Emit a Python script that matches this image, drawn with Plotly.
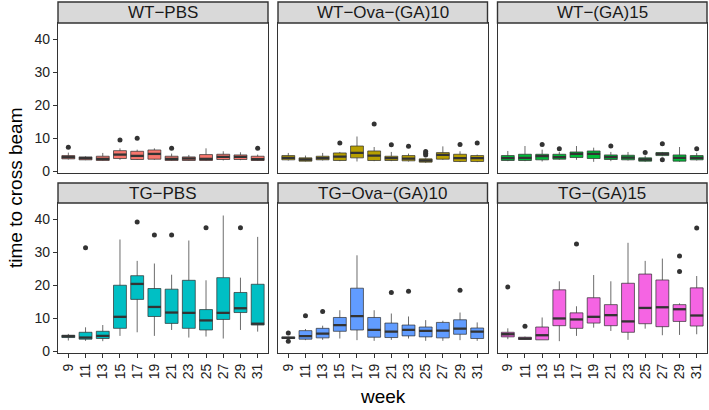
import plotly.graph_objects as go

# ---------------- data ----------------
WEEKS = [9, 11, 13, 15, 17, 19, 21, 23, 25, 27, 29, 31]
WEEK_LABELS = [str(w) for w in WEEKS]
Y_TICKS = [0, 10, 20, 30, 40]
PANEL_TITLES = ["WT−PBS", "WT−Ova−(GA)10", "WT−(GA)15",
                "TG−PBS", "TG−Ova−(GA)10", "TG−(GA)15"]
PANEL_COLORS = ["#F8766D", "#B79F00", "#00BA38", "#00BFC4", "#619CFF", "#F564E3"]

# WT-PBS
WT_PBS_LOW = [3.5, 3.3, 3.1, 3.4, 3.4, 3.4, 3.1, 3.1, 3.1, 3.2, 3.3, 3.1]
WT_PBS_Q1 = [3.7, 3.4, 3.2, 3.8, 3.5, 3.6, 3.2, 3.2, 3.2, 3.5, 3.5, 3.2]
WT_PBS_MED = [4.2, 3.9, 3.7, 5.0, 4.6, 5.2, 3.7, 3.8, 3.7, 4.3, 4.3, 3.6]
WT_PBS_Q3 = [4.7, 4.3, 4.5, 6.2, 6.0, 6.4, 4.5, 4.3, 5.0, 5.1, 4.9, 4.5]
WT_PBS_HIGH = [5.6, 4.5, 5.5, 6.9, 6.5, 6.9, 5.3, 4.9, 6.9, 6.0, 5.7, 5.0]
WT_PBS_OUT_WEEK = [9, 15, 17, 21, 31]
WT_PBS_OUT_VAL = [7.2, 9.4, 10.0, 6.9, 6.9]

# WT-Ova-(GA)10
WT_OVA_LOW = [3.2, 2.9, 3.2, 3.0, 2.9, 3.0, 3.0, 2.9, 2.5, 3.4, 2.7, 2.7]
WT_OVA_Q1 = [3.4, 3.0, 3.4, 3.2, 4.0, 3.2, 3.2, 3.1, 2.7, 3.6, 2.9, 2.9]
WT_OVA_MED = [4.0, 3.5, 3.9, 4.4, 5.5, 4.7, 3.9, 3.8, 3.2, 4.9, 3.9, 3.9]
WT_OVA_Q3 = [4.7, 4.0, 4.5, 5.5, 7.6, 6.1, 4.5, 4.7, 3.7, 5.6, 5.1, 4.7]
WT_OVA_HIGH = [5.5, 4.7, 5.5, 5.8, 10.5, 7.3, 5.8, 5.3, 3.9, 7.5, 6.0, 5.0]
WT_OVA_OUT_WEEK = [15, 19, 21, 23, 25, 25, 25, 29, 31]
WT_OVA_OUT_VAL = [8.5, 14.3, 8.0, 7.5, 4.9, 5.4, 5.9, 8.1, 8.5]

# WT-(GA)15
WT_GA15_LOW = [3.0, 3.0, 2.9, 3.4, 3.4, 2.8, 3.0, 3.2, 2.8, 4.5, 2.8, 3.2]
WT_GA15_Q1 = [3.2, 3.2, 3.4, 3.6, 4.1, 3.8, 3.5, 3.4, 3.0, 4.7, 3.0, 3.4]
WT_GA15_MED = [3.9, 4.0, 4.5, 4.2, 5.2, 5.2, 4.2, 4.1, 3.5, 5.2, 4.0, 4.0]
WT_GA15_Q3 = [4.7, 5.1, 5.1, 5.1, 5.8, 6.1, 4.9, 4.8, 4.0, 5.6, 4.9, 4.7]
WT_GA15_HIGH = [6.1, 7.6, 6.5, 5.8, 7.6, 7.1, 5.8, 5.8, 4.7, 5.8, 7.3, 5.5]
WT_GA15_OUT_WEEK = [13, 15, 21, 25, 27, 27, 31]
WT_GA15_OUT_VAL = [8.1, 6.8, 7.6, 5.6, 8.3, 3.4, 6.8]

# TG-PBS
TG_PBS_LOW = [3.2, 3.1, 3.0, 4.6, 5.7, 4.6, 6.4, 4.1, 4.4, 3.8, 6.4, 5.9]
TG_PBS_Q1 = [4.1, 3.6, 3.8, 6.9, 15.7, 10.5, 8.4, 6.9, 6.4, 9.6, 11.7, 7.9]
TG_PBS_MED = [4.5, 4.1, 4.6, 10.4, 20.4, 13.4, 11.7, 11.6, 9.3, 11.6, 13.0, 8.3]
TG_PBS_Q3 = [4.8, 5.7, 6.0, 20.0, 22.9, 19.0, 18.8, 21.5, 12.6, 22.3, 17.8, 20.3]
TG_PBS_HIGH = [5.2, 7.2, 7.9, 33.9, 27.4, 26.6, 23.2, 33.6, 21.5, 41.2, 22.3, 34.7]
TG_PBS_OUT_WEEK = [11, 17, 19, 21, 25, 29]
TG_PBS_OUT_VAL = [31.4, 39.2, 35.3, 35.3, 37.5, 37.5]

# TG-Ova-(GA)10
TG_OVA_LOW = [3.7, 3.3, 3.4, 3.8, 3.3, 3.1, 3.4, 3.8, 3.1, 3.1, 3.3, 3.1]
TG_OVA_Q1 = [3.8, 3.6, 4.0, 6.0, 6.4, 4.2, 4.1, 4.6, 4.3, 4.0, 5.1, 3.8]
TG_OVA_MED = [4.0, 4.5, 5.3, 7.9, 10.6, 6.4, 5.9, 6.4, 6.1, 6.2, 6.8, 5.9]
TG_OVA_Q3 = [4.3, 6.2, 6.9, 10.2, 19.1, 10.2, 8.5, 7.9, 7.3, 8.7, 9.5, 7.0]
TG_OVA_HIGH = [4.4, 6.7, 7.7, 12.4, 29.1, 12.4, 11.4, 10.5, 9.4, 9.2, 11.7, 8.7]
TG_OVA_OUT_WEEK = [9, 9, 11, 13, 21, 23, 29]
TG_OVA_OUT_VAL = [5.5, 3.0, 10.7, 12.0, 17.8, 18.2, 18.5]

# TG-(GA)15
TG_GA15_LOW = [3.6, 3.4, 3.4, 3.0, 4.6, 7.1, 6.1, 3.4, 6.8, 4.8, 4.9, 5.1]
TG_GA15_Q1 = [4.3, 3.5, 3.4, 7.7, 6.9, 8.5, 7.7, 5.7, 8.3, 7.4, 9.0, 7.6]
TG_GA15_MED = [5.1, 3.8, 4.8, 9.9, 9.6, 10.4, 10.9, 9.0, 13.1, 13.3, 12.7, 10.8]
TG_GA15_Q3 = [5.7, 4.2, 7.3, 18.6, 11.6, 16.2, 14.1, 20.6, 23.4, 21.6, 14.1, 19.2]
TG_GA15_HIGH = [6.9, 4.4, 10.2, 21.2, 13.6, 23.1, 21.2, 32.9, 27.4, 28.1, 14.5, 22.8]
TG_GA15_OUT_WEEK = [9, 11, 17, 29, 29, 31]
TG_GA15_OUT_VAL = [19.5, 7.5, 32.5, 28.9, 24.2, 37.4]

PANEL_STATS = [
    (WT_PBS_LOW, WT_PBS_Q1, WT_PBS_MED, WT_PBS_Q3, WT_PBS_HIGH, WT_PBS_OUT_WEEK, WT_PBS_OUT_VAL),
    (WT_OVA_LOW, WT_OVA_Q1, WT_OVA_MED, WT_OVA_Q3, WT_OVA_HIGH, WT_OVA_OUT_WEEK, WT_OVA_OUT_VAL),
    (WT_GA15_LOW, WT_GA15_Q1, WT_GA15_MED, WT_GA15_Q3, WT_GA15_HIGH, WT_GA15_OUT_WEEK, WT_GA15_OUT_VAL),
    (TG_PBS_LOW, TG_PBS_Q1, TG_PBS_MED, TG_PBS_Q3, TG_PBS_HIGH, TG_PBS_OUT_WEEK, TG_PBS_OUT_VAL),
    (TG_OVA_LOW, TG_OVA_Q1, TG_OVA_MED, TG_OVA_Q3, TG_OVA_HIGH, TG_OVA_OUT_WEEK, TG_OVA_OUT_VAL),
    (TG_GA15_LOW, TG_GA15_Q1, TG_GA15_MED, TG_GA15_Q3, TG_GA15_HIGH, TG_GA15_OUT_WEEK, TG_GA15_OUT_VAL),
]

# ---------------- layout geometry ----------------
W, H = 709, 410
ML, MR, MT, MB = 58, 2, 2, 57
PW, PH = W - ML - MR, H - MT - MB
COL_PX = [(58, 268), (278, 487.5), (497.5, 707)]
ROW_PX = [(23, 173), (203, 353)]          # plot area, top->bottom pixels
STRIP_PX = [(2, 23), (183, 203)]
BOX_W = 1.5
X_RANGE = [7.8, 32.2]
Y_RANGE = [-0.6, 45.0]
FONT = "Liberation Sans, Arial, sans-serif"
DARK = "#333333"


def xd(a, b):
    return [(a - ML) / PW, (b - ML) / PW]


def yd(top, bottom):
    return [1 - (bottom - MT) / PH, 1 - (top - MT) / PH]


fig = go.Figure()
layout = {}
shapes = []
annotations = []

for i, (title, color, stats) in enumerate(zip(PANEL_TITLES, PANEL_COLORS, PANEL_STATS)):
    r, c = divmod(i, 3)
    n = i + 1
    xa = "x" if n == 1 else f"x{n}"
    ya = "y" if n == 1 else f"y{n}"
    low, q1, med, q3, high, ow, ov = stats

    fig.add_trace(go.Box(
        x=WEEKS, q1=q1, median=med, q3=q3, lowerfence=low, upperfence=high,
        width=BOX_W, boxpoints=False, whiskerwidth=0,
        fillcolor=color, line=dict(color="rgba(45,45,45,0.7)", width=1),
        xaxis=xa, yaxis=ya, showlegend=False, hoverinfo="skip"))

    mx, my = [], []
    for w, m in zip(WEEKS, med):
        mx += [w - BOX_W / 2, w + BOX_W / 2, None]
        my += [m, m, None]
    fig.add_trace(go.Scatter(x=mx, y=my, mode="lines",
                             line=dict(color=DARK, width=2.3),
                             xaxis=xa, yaxis=ya, showlegend=False, hoverinfo="skip"))

    fig.add_trace(go.Scatter(x=ow, y=ov, mode="markers",
                             marker=dict(color=DARK, size=5),
                             xaxis=xa, yaxis=ya, showlegend=False, hoverinfo="skip"))

    xk = "xaxis" if n == 1 else f"xaxis{n}"
    yk = "yaxis" if n == 1 else f"yaxis{n}"
    layout[xk] = dict(
        domain=xd(*COL_PX[c]), anchor=ya, range=X_RANGE,
        tickvals=WEEKS, ticktext=WEEK_LABELS, tickangle=-90,
        showticklabels=(r == 1), ticks="outside" if r == 1 else "",
        ticklen=4, tickcolor=DARK, tickwidth=1,
        tickfont=dict(family=FONT, size=14, color="#222222"),
        showgrid=False, zeroline=False, showline=True, mirror=True,
        linecolor=DARK, linewidth=1.4)
    layout[yk] = dict(
        domain=yd(*ROW_PX[r]), anchor=xa, range=Y_RANGE,
        tickvals=Y_TICKS, showticklabels=(c == 0),
        ticks="outside" if c == 0 else "", ticklen=4, tickcolor=DARK, tickwidth=1,
        tickfont=dict(family=FONT, size=14, color="#222222"),
        showgrid=False, zeroline=False, showline=True, mirror=True,
        linecolor=DARK, linewidth=1.4)

    sx0, sx1 = xd(*COL_PX[c])
    sy0, sy1 = yd(*STRIP_PX[r])
    shapes.append(dict(type="rect", xref="paper", yref="paper",
                       x0=sx0, x1=sx1, y0=sy0, y1=sy1,
                       fillcolor="#D9D9D9", line=dict(color=DARK, width=1.4)))
    annotations.append(dict(text=title, xref="paper", yref="paper",
                            x=(sx0 + sx1) / 2, y=(sy0 + sy1) / 2,
                            xanchor="center", yanchor="middle", showarrow=False,
                            font=dict(family=FONT, size=17, color="#1a1a1a")))

annotations.append(dict(text="time to cross beam", xref="paper", yref="paper",
                        x=(15 - ML) / PW, y=1 - (188 - MT) / PH, textangle=-90,
                        xanchor="center", yanchor="middle", showarrow=False,
                        font=dict(family=FONT, size=19, color="#000000")))
annotations.append(dict(text="week", xref="paper", yref="paper",
                        x=(382.5 - ML) / PW, y=1 - (396 - MT) / PH,
                        xanchor="center", yanchor="middle", showarrow=False,
                        font=dict(family=FONT, size=19, color="#000000")))

fig.update_layout(
    width=W, height=H,
    margin=dict(l=ML, r=MR, t=MT, b=MB, pad=0),
    paper_bgcolor="white", plot_bgcolor="white",
    shapes=shapes, annotations=annotations,
    showlegend=False,
    **layout)

fig.write_html(
    "out.html",
    config={"displayModeBar": False},
    post_script="document.body.style.margin='0';document.body.style.overflow='hidden';")
